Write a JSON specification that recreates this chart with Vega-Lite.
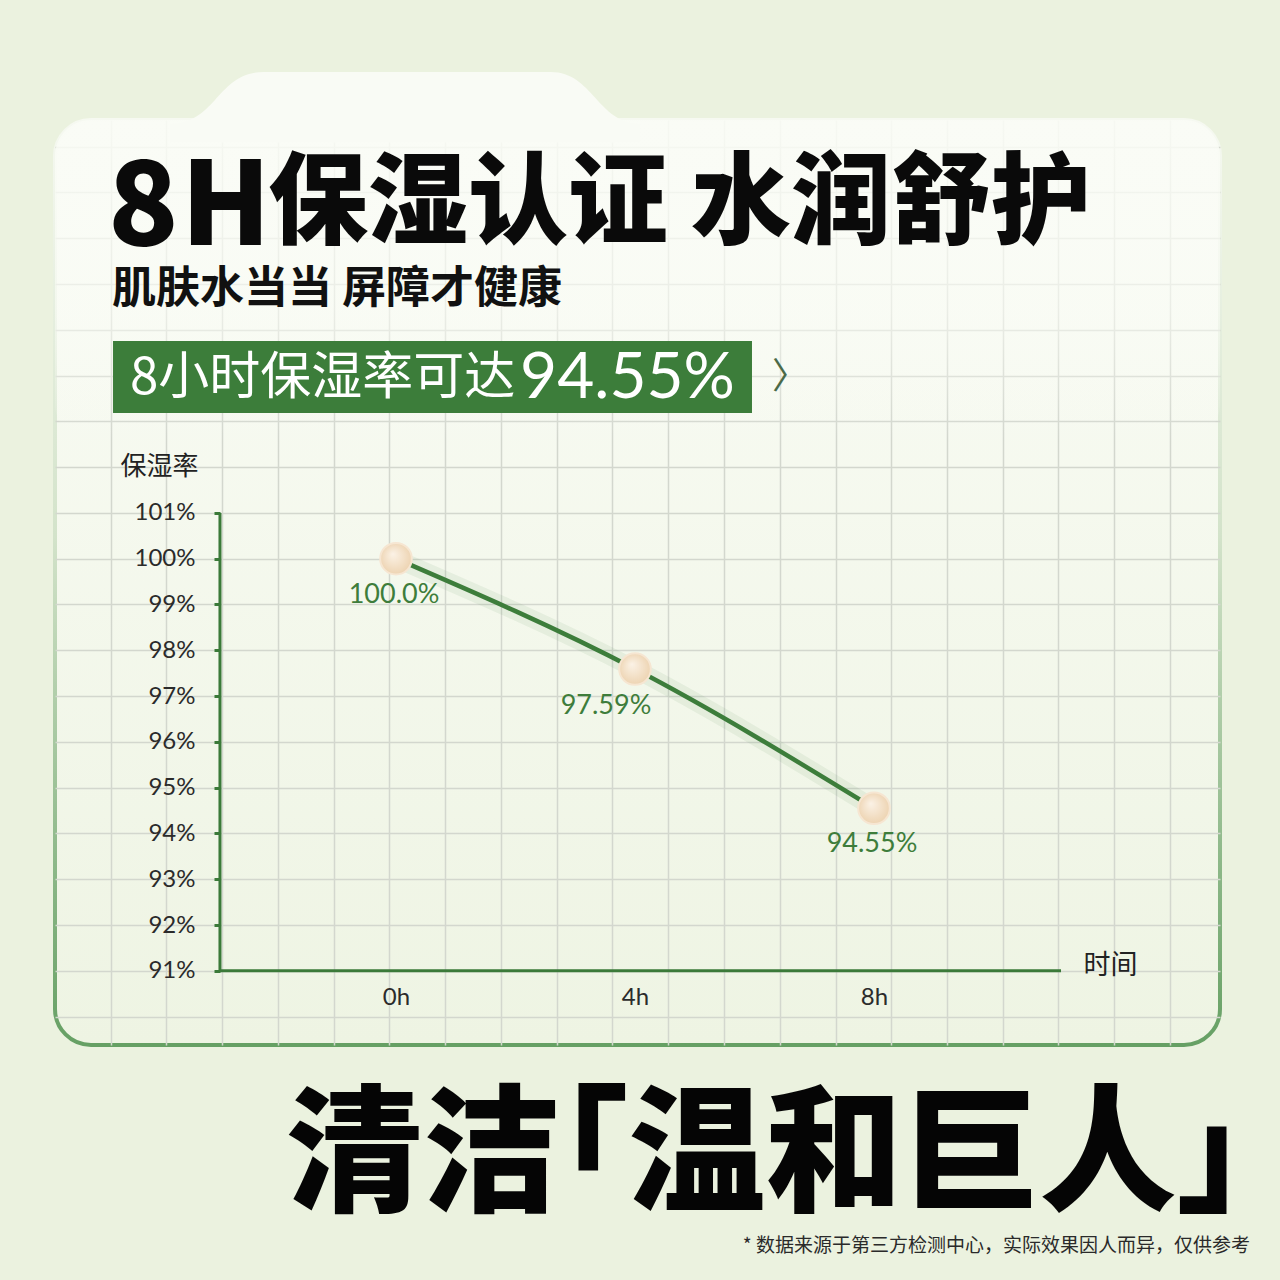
{
  "$schema": "https://vega.github.io/schema/vega-lite/v6.json",
  "width": 1165,
  "height": 925,
  "autosize": {"type": "none"},
  "padding": {"left": 55, "top": 120, "right": 60, "bottom": 235},
  "background": "#ebf2df",
  "config": {
    "font": "Noto Sans CJK SC",
    "view": {
      "fill": {"gradient": "linear", "x1": 0, "y1": 0, "x2": 0, "y2": 1,
        "stops": [{"offset": 0, "color": "#fafcf6"}, {"offset": 1, "color": "#eef4e3"}]},
      "stroke": {"gradient": "linear", "x1": 0, "y1": 0, "x2": 0, "y2": 1,
        "stops": [{"offset": 0, "color": "#f6f9f1"}, {"offset": 0.45, "color": "#d3e3ca"}, {"offset": 1, "color": "#66a064"}]},
      "strokeWidth": 4,
      "cornerRadius": 36
    }
  },
  "data": {
    "values": [
      {"time": 0, "rate": 100.0, "label": "100.0%"},
      {"time": 4, "rate": 97.59, "label": "97.59%"},
      {"time": 8, "rate": 94.55, "label": "94.55%"}
    ]
  },
  "layer": [
    {
      "data": {"values": [{}]},
      "mark": {"type": "point", "opacity": 0},
      "encoding": {
        "x": {
          "datum": 0, "type": "quantitative",
          "scale": {"domain": [-5.707, 13.791], "nice": false, "zero": false},
          "axis": {"orient": "top", "values": [-4.774, -3.841, -2.908, -1.975, -1.042, -0.109, 0.824, 1.757, 2.69, 3.623, 4.556, 5.49, 6.423, 7.356, 8.289, 9.222, 10.155, 11.088, 12.021, 12.954],
            "grid": true, "gridColor": "#d3d7ce", "gridWidth": 1.5, "domain": false, "ticks": false, "labels": false, "title": null}
        },
        "y": {
          "datum": 100, "type": "quantitative",
          "scale": {"domain": [89.38, 109.58], "nice": false, "zero": false},
          "axis": {"orient": "right", "values": [90,91,92,93,94,95,96,97,98,99,100,101,102,103,104,105,106,107,108,109],
            "grid": true, "gridColor": "#d3d7ce", "gridWidth": 1.5, "domain": false, "ticks": false, "labels": false, "title": null}
        }
      }
    },
    {
      "data": {"values": [{}]},
      "mark": {"type": "rect", "cornerRadius": 36,
        "fill": {"gradient": "linear", "x1": 0, "y1": 0, "x2": 0, "y2": 1,
          "stops": [{"offset": 0, "color": "rgba(250,252,246,0.9)"}, {"offset": 0.6, "color": "rgba(250,252,246,0.6)"}, {"offset": 1, "color": "rgba(250,252,246,0)"}]}},
      "encoding": {
        "x": {"datum": -5.707, "type": "quantitative", "axis": null},
        "x2": {"datum": 13.791},
        "y": {"datum": 109.58, "type": "quantitative", "axis": null},
        "y2": {"datum": 102.592}
      }
    },
    {
      "data": {"values": [{}]},
      "mark": {
        "type": "point", "filled": true, "opacity": 1, "fill": "#f9fbf5", "strokeWidth": 0, "size": 220900,
        "shape": "M -1 0.12 C -0.8 0.12 -0.8 -0.1 -0.6 -0.1 L 0.62 -0.1 C 0.8 -0.1 0.82 0.12 1 0.12 L 1 0.2 L -1 0.2 Z"
      },
      "encoding": {
        "x": {"datum": 0.151, "type": "quantitative", "axis": null},
        "y": {"datum": 110.115, "type": "quantitative", "axis": null}
      }
    },
    {
      "mark": {"type": "line", "color": "#3d7d3b", "strokeWidth": 18, "opacity": 0.08, "interpolate": "monotone"},
      "encoding": {
        "x": {"field": "time", "type": "quantitative", "axis": null},
        "y": {"field": "rate", "type": "quantitative", "axis": null}
      }
    },
    {
      "data": {"values": [{}]},
      "mark": {"type": "rule", "color": "#3b7a39", "strokeWidth": 3},
      "encoding": {
        "x": {"datum": -2.946, "type": "quantitative", "axis": null},
        "y": {"datum": 91, "type": "quantitative", "axis": null},
        "y2": {"datum": 101}
      }
    },
    {
      "data": {"values": [{}]},
      "mark": {"type": "rule", "color": "#3b7a39", "strokeWidth": 3},
      "encoding": {
        "x": {"datum": -2.946, "type": "quantitative", "axis": null},
        "x2": {"datum": 11.13},
        "y": {"datum": 91, "type": "quantitative", "axis": null}
      }
    },
    {
      "mark": {"type": "line", "color": "#3d7d3b", "strokeWidth": 4.5, "interpolate": "monotone"},
      "encoding": {
        "x": {
          "field": "time", "type": "quantitative",
          "scale": {"domain": [-5.707, 13.791], "nice": false, "zero": false},
          "axis": {
            "orient": "bottom", "offset": -74, "values": [0, 4, 8],
            "labelExpr": "datum.value + 'h'", "domain": false, "ticks": false, "grid": false,
            "labelFont": "Lato", "labelFontSize": 24, "labelColor": "#2b2b2b", "labelPadding": 14,
            "title": "时间", "titleFont": "Noto Sans CJK SC", "titleFontSize": 27, "titleFontWeight": "normal",
            "titleColor": "#222222", "titleAlign": "left", "titleBaseline": "middle", "titleX": 1028, "titleY": -6
          }
        },
        "y": {
          "field": "rate", "type": "quantitative",
          "scale": {"domain": [89.38, 109.58], "nice": false, "zero": false},
          "axis": {
            "orient": "left", "offset": -165, "values": [91,92,93,94,95,96,97,98,99,100,101],
            "labelExpr": "datum.value + '%'", "domain": false, "grid": false,
            "ticks": true, "tickColor": "#3b7a39", "tickWidth": 3, "tickSize": 6,
            "labelFont": "Lato", "labelFontSize": 24, "labelColor": "#2b2b2b", "labelPadding": 19,
            "title": "保湿率", "titleFont": "Noto Sans CJK SC", "titleFontSize": 26, "titleFontWeight": "normal",
            "titleColor": "#222222", "titleAngle": 0, "titleAlign": "left", "titleBaseline": "middle",
            "titleX": -100, "titleY": 346
          }
        }
      }
    },
    {
      "mark": {
        "type": "point", "filled": true, "size": 1000, "opacity": 1,
        "fill": {"gradient": "radial", "x1": 0.4, "y1": 0.35, "r1": 0, "x2": 0.5, "y2": 0.5, "r2": 0.6,
          "stops": [{"offset": 0, "color": "#fbf2e6"}, {"offset": 1, "color": "#ebcfaa"}]},
        "stroke": "#f6e6d2", "strokeWidth": 2
      },
      "encoding": {
        "x": {"field": "time", "type": "quantitative", "axis": null},
        "y": {"field": "rate", "type": "quantitative", "axis": null}
      }
    },
    {
      "transform": [{"filter": "datum.time != 4"}],
      "mark": {"type": "text", "font": "Lato", "fontSize": 27, "color": "#3e7d3b", "dy": 36, "dx": -2},
      "encoding": {
        "x": {"field": "time", "type": "quantitative", "axis": null},
        "y": {"field": "rate", "type": "quantitative", "axis": null},
        "text": {"field": "label"}
      }
    },
    {
      "transform": [{"filter": "datum.time == 4"}],
      "mark": {"type": "text", "font": "Lato", "fontSize": 27, "color": "#3e7d3b", "dy": 37, "dx": -29},
      "encoding": {
        "x": {"field": "time", "type": "quantitative", "axis": null},
        "y": {"field": "rate", "type": "quantitative", "axis": null},
        "text": {"field": "label"}
      }
    },
    {
      "data": {"values": [{}]},
      "mark": {"type": "text", "text": "8", "font": "Noto Sans CJK SC", "fontSize": 116, "fontWeight": 900, "color": "#0a0a0a", "align": "left", "baseline": "alphabetic"},
      "encoding": {
        "x": {"datum": -4.82, "type": "quantitative", "axis": null},
        "y": {"datum": 106.85, "type": "quantitative", "axis": null}
      }
    },
    {
      "data": {"values": [{}]},
      "mark": {"type": "text", "text": "H", "font": "Noto Sans CJK SC", "fontSize": 116, "fontWeight": 900, "color": "#0a0a0a", "align": "left", "baseline": "alphabetic"},
      "encoding": {
        "x": {"datum": -3.6, "type": "quantitative", "axis": null},
        "y": {"datum": 106.85, "type": "quantitative", "axis": null}
      }
    },
    {
      "data": {"values": [{}]},
      "mark": {"type": "text", "text": "保湿认证 水润舒护", "font": "Noto Sans CJK SC", "fontSize": 100, "fontWeight": 900, "color": "#0a0a0a", "align": "left", "baseline": "middle"},
      "encoding": {
        "x": {"datum": -2.142, "type": "quantitative", "axis": null},
        "y": {"datum": 107.702, "type": "quantitative", "axis": null}
      }
    },
    {
      "data": {"values": [{}]},
      "mark": {"type": "text", "text": "肌肤水当当 屏障才健康", "font": "Noto Sans CJK SC", "fontSize": 44, "fontWeight": "bold", "color": "#111111", "align": "left", "baseline": "middle"},
      "encoding": {
        "x": {"datum": -4.753, "type": "quantitative", "axis": null},
        "y": {"datum": 105.87, "type": "quantitative", "axis": null}
      }
    },
    {
      "data": {"values": [{}]},
      "mark": {"type": "rect", "fill": "#3c7d3a"},
      "encoding": {
        "x": {"datum": -4.736, "type": "quantitative", "axis": null},
        "x2": {"datum": 5.958},
        "y": {"datum": 104.754, "type": "quantitative", "axis": null},
        "y2": {"datum": 103.181}
      }
    },
    {
      "data": {"values": [{}]},
      "mark": {"type": "text", "text": "8小时保湿率可达", "font": "Noto Sans CJK SC", "fontSize": 51, "color": "#ffffff", "align": "left", "baseline": "middle"},
      "encoding": {
        "x": {"datum": -4.452, "type": "quantitative", "axis": null},
        "y": {"datum": 103.924, "type": "quantitative", "axis": null}
      }
    },
    {
      "data": {"values": [{}]},
      "mark": {"type": "text", "text": "94.55%", "font": "Lato", "fontSize": 64, "color": "#ffffff", "align": "left", "baseline": "middle"},
      "encoding": {
        "x": {"datum": 2.076, "type": "quantitative", "axis": null},
        "y": {"datum": 103.924, "type": "quantitative", "axis": null}
      }
    },
    {
      "data": {"values": [{}]},
      "mark": {"type": "text", "text": "〉", "font": "Noto Sans CJK SC", "fontSize": 36, "color": "#4b6a48", "align": "center", "baseline": "middle"},
      "encoding": {
        "x": {"datum": 6.594, "type": "quantitative", "axis": null},
        "y": {"datum": 103.946, "type": "quantitative", "axis": null}
      }
    },
    {
      "data": {"values": [{}]},
      "mark": {"type": "text", "text": "清洁｢温和巨人｣", "font": "Noto Sans CJK SC", "fontSize": 137, "fontWeight": 900, "color": "#050505", "align": "left", "baseline": "middle"},
      "encoding": {
        "x": {"datum": -1.841, "type": "quantitative", "axis": null},
        "y": {"datum": 86.868, "type": "quantitative", "axis": null}
      }
    },
    {
      "data": {"values": [{}]},
      "mark": {"type": "text", "text": "* 数据来源于第三方检测中心，实际效果因人而异，仅供参考", "font": "Noto Sans CJK SC", "fontSize": 19, "color": "#2a2a2a", "align": "right", "baseline": "middle"},
      "encoding": {
        "x": {"datum": 14.293, "type": "quantitative", "axis": null},
        "y": {"datum": 85.0, "type": "quantitative", "axis": null}
      }
    }
  ],
  "resolve": {
    "axis": {"x": "independent", "y": "independent"}
  }
}
